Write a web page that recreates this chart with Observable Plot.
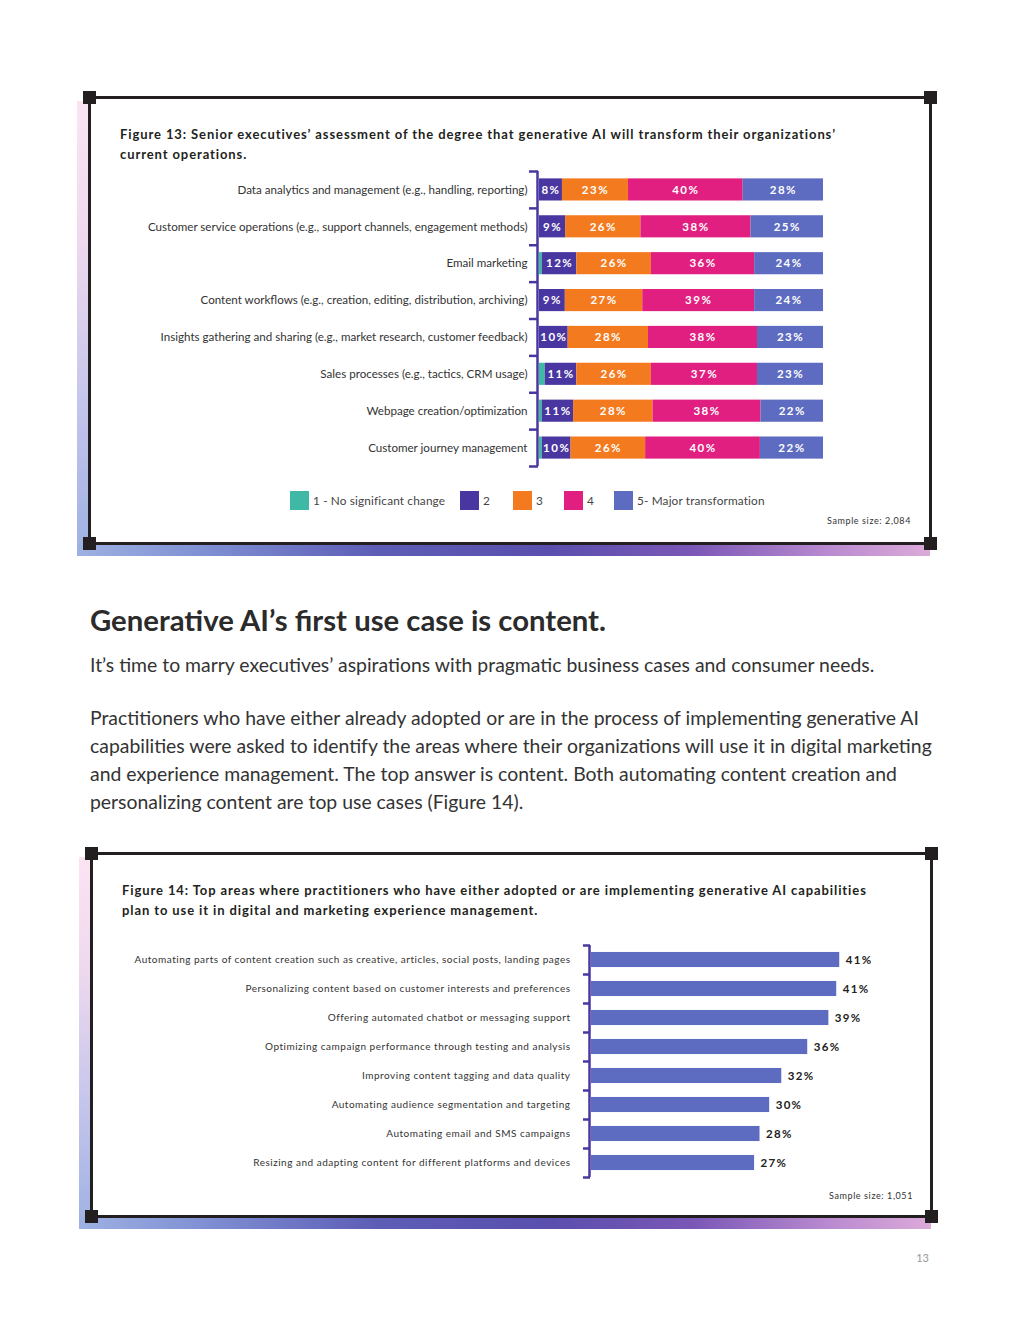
<!DOCTYPE html>
<html><head><meta charset="utf-8">
<script src="https://cdn.jsdelivr.net/npm/d3@7"></script>
<script src="https://cdn.jsdelivr.net/npm/@observablehq/plot@0.6"></script>
<style>
body{margin:0;background:#fff;}
#page{position:relative;width:1020px;height:1320px;overflow:hidden;font-family:Lato,"Open Sans",sans-serif;color:#231f20;background:#fff;}
.abs{position:absolute;}
.frame{position:absolute;border:3px solid #231f20;box-sizing:border-box;background:#fff;}
.corner{position:absolute;width:13px;height:13px;background:#231f20;}
.figtitle{position:absolute;font-weight:700;font-size:13px;letter-spacing:0.9px;line-height:20px;color:#231f20;white-space:nowrap;}
.sample{position:absolute;font-size:9px;letter-spacing:0.6px;color:#333;text-align:right;}
.lsw{position:absolute;width:19px;height:19px;}
.ltx{position:absolute;font-size:11.8px;letter-spacing:0.15px;color:#444;line-height:19px;white-space:nowrap;}
</style></head><body><div id="page"></div>
<script>
// ---------- Figure 13 data ----------
const fig13Categories = [
  "Data analytics and management (e.g., handling, reporting)",
  "Customer service operations (e.g., support channels, engagement methods)",
  "Email marketing",
  "Content workflows (e.g., creation, editing, distribution, archiving)",
  "Insights gathering and sharing (e.g., market research, customer feedback)",
  "Sales processes (e.g., tactics, CRM usage)",
  "Webpage creation/optimization",
  "Customer journey management"
];
const fig13Levels = ["1 - No significant change", "2", "3", "4", "5- Major transformation"];
const fig13Level1 = [0, 0, 1, 0, 0, 2, 1, 1];
const fig13Level2 = [8, 9, 12, 9, 10, 11, 11, 10];
const fig13Level3 = [23, 26, 26, 27, 28, 26, 28, 26];
const fig13Level4 = [40, 38, 36, 39, 38, 37, 38, 40];
const fig13Level5 = [28, 25, 24, 24, 23, 23, 22, 22];
const fig13Colors = ["#3fb8a5", "#4a36a0", "#f47a1f", "#e01f80", "#5d6bc1"];
const fig13Title = "Figure 13: Senior executives’ assessment of the degree that generative AI will transform their organizations’<br>current operations.";
const fig13Sample = "Sample size: 2,084";

// ---------- Figure 14 data ----------
const fig14Categories = [
  "Automating parts of content creation such as creative, articles, social posts, landing pages",
  "Personalizing content based on customer interests and preferences",
  "Offering automated chatbot or messaging support",
  "Optimizing campaign performance through testing and analysis",
  "Improving content tagging and data quality",
  "Automating audience segmentation and targeting",
  "Automating email and SMS campaigns",
  "Resizing and adapting content for different platforms and devices"
];
const fig14Values = [41.1, 40.6, 39.3, 35.8, 31.5, 29.5, 27.9, 27.0];
const fig14Color = "#5d6bc1";
const fig14Title = "Figure 14: Top areas where practitioners who have either adopted or are implementing generative AI capabilities<br>plan to use it in digital and marketing experience management.";
const fig14Sample = "Sample size: 1,051";

const bracketColor = "#4a36a0";
// layout (not data): legend swatch left edges
const legendX = [290, 460, 513, 564, 614];

const page = document.getElementById("page");
function add(html, cls, style){
  const d = document.createElement("div");
  if (cls) d.className = cls;
  d.innerHTML = html;
  Object.assign(d.style, style);
  page.appendChild(d);
  return d;
}

// decorative frames
function frameBox(x0, y0, x1, y1){
  add("", "abs", {left:(x0-12)+"px", top:(y0+4)+"px", width:"12px", height:(y1-y0+9)+"px",
    background:"linear-gradient(to bottom,#fbe4f2 0%,#efd9ee 30%,#c6c6ec 65%,#9eb1e2 100%)"});
  add("", "abs", {left:(x0-12)+"px", top:(y1)+"px", width:(x1-x0+12)+"px", height:"13px",
    background:"linear-gradient(to right,#9eb1e2 0%,#7f8fd3 15%,#5d5db6 35%,#5a4fae 55%,#7a57b6 72%,#b98ad0 88%,#dcaad9 100%)"});
  add("", "frame", {left:(x0-1.5)+"px", top:(y0-1.5)+"px", width:(x1-x0+3)+"px", height:(y1-y0+3)+"px"});
  [[x0,y0],[x1,y0],[x0,y1],[x1,y1]].forEach(([x,y]) =>
    add("", "corner", {left:(x-6.5)+"px", top:(y-6.5)+"px"}));
}

frameBox(89, 97, 930, 543);
frameBox(91, 853, 931, 1216);

// ---------- Figure 13 ----------
add(fig13Title, "figtitle", {left:"120px", top:"124px"});

const rows13 = [];
fig13Categories.forEach((c, i) => {
  [fig13Level1, fig13Level2, fig13Level3, fig13Level4, fig13Level5].forEach((arr, k) => {
    rows13.push({category: c, level: fig13Levels[k], value: arr[i]});
  });
});
const step13 = 295 / fig13Categories.length;
const chart13 = Plot.plot({
  width: 743, height: 315,
  marginLeft: 439, marginRight: 20, marginTop: 10, marginBottom: 10,
  x: {domain: [0, 1], axis: null},
  y: {domain: fig13Categories, paddingInner: 0.4, paddingOuter: 0.2, axis: null, round: false},
  color: {domain: fig13Levels, range: fig13Colors},
  style: {fontFamily: "Lato, sans-serif", overflow: "visible", background: "transparent"},
  marks: [
    Plot.barX(rows13, Plot.stackX({x: "value", y: "category", fill: "level", offset: "normalize", order: fig13Levels})),
    Plot.text(rows13, Plot.stackX({x: "value", y: "category", z: "level", offset: "normalize", order: fig13Levels,
      text: d => d.value >= 3 ? d.value + "%" : null, fill: "white", fontWeight: 700, fontSize: 11.5})),
    Plot.ruleX([0], {dx: -2, stroke: bracketColor, strokeWidth: 2.5}),
    Plot.ruleY(fig13Categories, {y: d => d, x1: 0, x2: 0, insetLeft: -10, insetRight: 1, dy: -step13 / 2, stroke: bracketColor, strokeWidth: 2.5}),
    Plot.ruleY(fig13Categories.slice(-1), {y: d => d, x1: 0, x2: 0, insetLeft: -10, insetRight: 1, dy: step13 / 2, stroke: bracketColor, strokeWidth: 2.5}),
    Plot.text(fig13Categories, {x: 0, y: d => d, text: d => d, textAnchor: "end", dx: -12, fontSize: 11.6, fill: "#333"})
  ]
});
d3.select(chart13).selectAll('g[font-weight="700"]').style("letter-spacing", "1.5px");
add("", "abs", {left: "100px", top: "161px"}).appendChild(chart13);

// legend
fig13Levels.forEach((l, k) => {
  add("", "lsw", {left: legendX[k] + "px", top: "491px", background: fig13Colors[k]});
  add(l, "ltx", {left: (legendX[k] + 23) + "px", top: "491px"});
});
add(fig13Sample, "sample", {left: "711px", width: "200px", top: "515px"});

// ---------- Body text ----------
add("Generative AI’s first use case is content.", "abs", {left:"90px", top:"602px", fontSize:"29.3px", fontWeight:"700", lineHeight:"36px", color:"#2b2b2b", whiteSpace:"nowrap"});
add("It’s time to marry executives’ aspirations with pragmatic business cases and consumer needs.", "abs", {left:"90px", top:"651px", fontSize:"19.4px", lineHeight:"28px", color:"#333", whiteSpace:"nowrap"});
add("Practitioners who have either already adopted or are in the process of implementing generative AI<br>capabilities were asked to identify the areas where their organizations will use it in digital marketing<br>and experience management. The top answer is content. Both automating content creation and<br>personalizing content are top use cases (Figure 14).", "abs", {left:"90px", top:"704px", fontSize:"19.4px", lineHeight:"28px", color:"#333", whiteSpace:"nowrap"});

// ---------- Figure 14 ----------
add(fig14Title, "figtitle", {left:"122px", top:"880px"});
const rows14 = fig14Categories.map((c, i) => ({category: c, value: fig14Values[i]}));
const step14 = 232 / fig14Categories.length;
const chart14 = Plot.plot({
  width: 813, height: 252,
  marginLeft: 491, marginRight: 20, marginTop: 10, marginBottom: 10,
  x: {domain: [0, 50], axis: null},
  y: {domain: fig14Categories, paddingInner: 0.48, paddingOuter: 0.24, axis: null, round: false},
  style: {fontFamily: "Lato, sans-serif", overflow: "visible", background: "transparent"},
  marks: [
    Plot.barX(rows14, {x: "value", y: "category", fill: fig14Color}),
    Plot.text(rows14, {x: "value", y: "category", text: d => Math.round(d.value) + "%", textAnchor: "start", dx: 6, fontWeight: 700, fontSize: 11.5, fill: "#222"}),
    Plot.ruleX([0], {dx: -2, stroke: bracketColor, strokeWidth: 2.5}),
    Plot.ruleY(fig14Categories, {y: d => d, x1: 0, x2: 0, insetLeft: -8, insetRight: 1, dy: -step14 / 2, stroke: bracketColor, strokeWidth: 2.5}),
    Plot.ruleY(fig14Categories.slice(-1), {y: d => d, x1: 0, x2: 0, insetLeft: -8, insetRight: 1, dy: step14 / 2, stroke: bracketColor, strokeWidth: 2.5}),
    Plot.text(fig14Categories, {x: 0, y: d => d, text: d => d, textAnchor: "end", dx: -21, fontSize: 10, fill: "#333"})
  ]
});
d3.select(chart14).selectAll('g[font-weight="700"]').style("letter-spacing", "1.3px");
d3.select(chart14).selectAll('g[font-size="10"]').style("letter-spacing", "0.5px");
add("", "abs", {left: "100px", top: "935px"}).appendChild(chart14);
add(fig14Sample, "sample", {left: "713px", width: "200px", top: "1190px"});

// page number
add("13", "abs", {left: "900px", width: "29px", textAlign: "right", top: "1251px", fontSize: "11px", color: "#999"});
</script>
</body></html>
